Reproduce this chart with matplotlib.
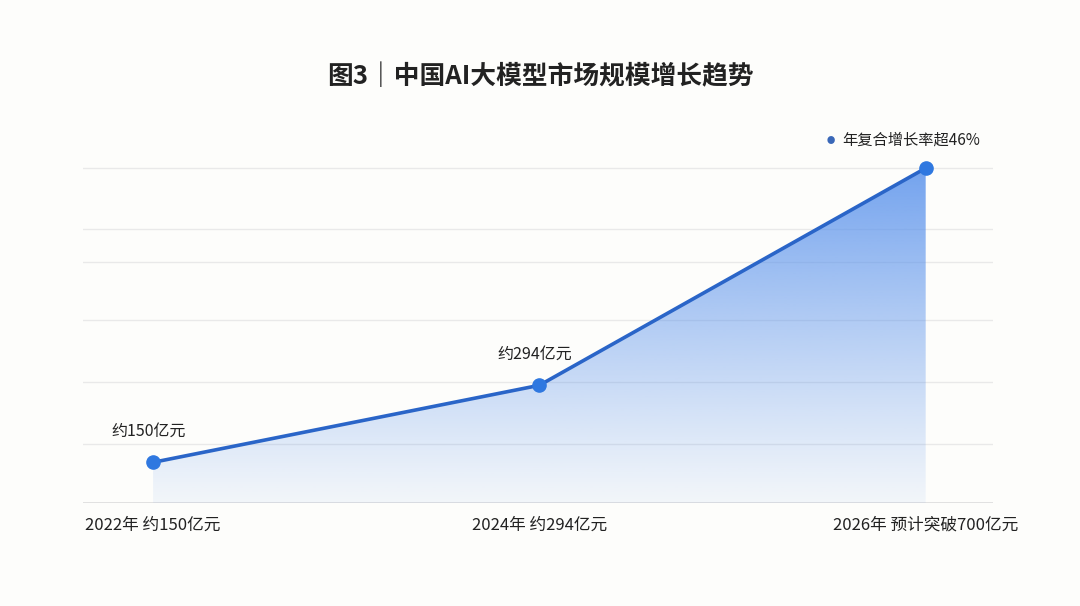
import numpy as np
import matplotlib
matplotlib.use("Agg")
import matplotlib.pyplot as plt
from matplotlib.patches import Polygon

plt.rcParams['font.family'] = ['Noto Sans CJK SC', 'DejaVu Sans']

# data
years = ['2022年', '2024年', '2026年']
values = [150, 294, 700]
tick_labels = ['2022年 约150亿元', '2024年 约294亿元', '2026年 预计突破700亿元']
point_labels = ['约150亿元', '约294亿元', None]
grid_levels = [184, 301, 417, 524, 586, 700]
legend_text = '年复合增长率超46%'
title = '图3｜中国AI大模型市场规模增长趋势'

line_color = '#2a65c8'
dot_color = '#2f78e0'
bg = '#fdfdfb'

fig = plt.figure(figsize=(10.8, 6.06), dpi=100, facecolor=bg)
ax = fig.add_axes([0.077, 0.170, 0.842, 0.632], facecolor=bg)

x = np.arange(len(values))
ax.set_xlim(-0.181, 2.173)
ax.set_ylim(74, 790)

# grid lines
for g in grid_levels:
    ax.axhline(g, color='#e9e9e9', lw=1, zorder=0)
ax.axhline(74, color='#dcdcdc', lw=1.2, zorder=0)

# gradient fill under the line
verts = [(x[0], 74)] + list(zip(x, values)) + [(x[-1], 74)]
poly = Polygon(verts, closed=True, facecolor='none', edgecolor='none')
ax.add_patch(poly)
n = 256
grad = np.zeros((n, 1, 4))
top_rgb = np.array([0x5b, 0x93, 0xec]) / 255
t = np.linspace(0, 1, n)
grad[:, 0, :3] = top_rgb
grad[:, 0, 3] = 0.07 + 0.78 * t ** 1.1
im = ax.imshow(grad, extent=[x[0], x[-1], 74, max(values)], origin='lower',
               aspect='auto', zorder=1, interpolation='bilinear')
im.set_clip_path(poly)

ax.plot(x, values, color=line_color, lw=2.6, zorder=3, solid_capstyle='round')
ax.plot(x, values, 'o', color=dot_color, ms=9.5, zorder=4)

for xi, v, lab in zip(x, values, point_labels):
    if lab:
        ax.annotate(lab, (xi, v), xytext=(-3, 16), textcoords='offset points',
                    ha='center', va='bottom', fontsize=11.5, color='#222222')

ax.set_xticks(x)
ax.set_xticklabels(tick_labels, fontsize=12, color='#222222')
ax.tick_params(axis='x', length=0, pad=10)
ax.set_yticks([])
for s in ax.spines.values():
    s.set_visible(False)

# legend-like note
fig.text(0.769, 0.768, '●', fontsize=6, color='#3a68b8', ha='center', va='center')
fig.text(0.780, 0.768, legend_text, fontsize=11, color='#222222', ha='left', va='center')

fig.text(0.5, 0.874, title, fontsize=18.5, fontweight='bold', color='#222222',
         ha='center', va='center')

fig.savefig('out.png', dpi=100, facecolor=bg)
